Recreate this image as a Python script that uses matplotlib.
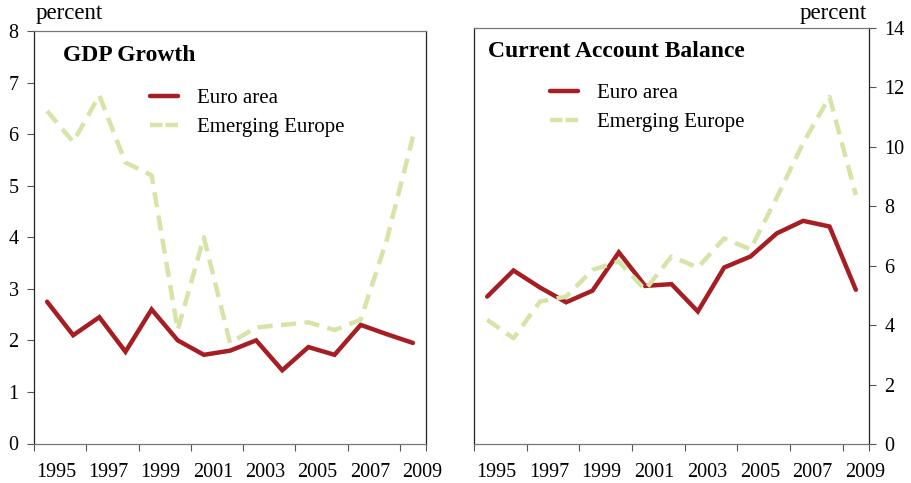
import matplotlib
matplotlib.use("Agg")
import matplotlib.pyplot as plt
import numpy as np

plt.rcParams['font.family'] = ['Liberation Serif', 'DejaVu Serif']

years = np.arange(1995, 2010)

gdp_euro = [2.75, 2.1, 2.45, 1.78, 2.6, 2.0, 1.72, 1.8, 2.0, 1.42, 1.87, 1.72, 2.3, 2.12, 1.95]
gdp_emerging = [6.45, 5.85, 6.75, 5.45, 5.2, 2.2, 4.0, 1.95, 2.25, 2.3, 2.35, 2.2, 2.4, 3.95, 5.95]

ca_euro = [4.96, 5.84, 5.27, 4.77, 5.16, 6.45, 5.32, 5.38, 4.46, 5.94, 6.31, 7.09, 7.51, 7.32, 5.19]
ca_emerging = [4.18, 3.56, 4.79, 4.96, 5.86, 6.14, 5.19, 6.31, 5.94, 6.92, 6.55, 8.3, 10.13, 11.68, 8.38]

year_labels = ['1995', '1997', '1999', '2001', '2003', '2005', '2007', '2009']
series_names = ['Euro area', 'Emerging Europe']

RED = '#A61E24'
GREEN = '#D7E4A8'
TICK_FS = 14.5


def style_axes(ax, yside):
    ax.set_xlim(1994.5, 2009.5)
    # tick marks sit between years, labels sit under odd years
    ax.set_xticks(list(np.arange(1994.5, 2009, 2)) + [2009.5])
    ax.set_xticklabels([])
    ax.set_xticks([int(y) + 0.35 for y in year_labels], minor=True)
    ax.set_xticklabels(year_labels, minor=True, fontsize=TICK_FS)
    ax.tick_params(axis='x', which='major', direction='out', length=5, width=0.8, color='#555555')
    ax.tick_params(axis='x', which='minor', length=0, pad=14)
    ax.tick_params(axis='y', direction='out', length=5, width=0.8, color='#555555',
                   labelsize=TICK_FS, pad=6)
    if yside == 'right':
        ax.yaxis.tick_right()
    for s in ['left', 'right']:
        ax.spines[s].set_color('#222222')
        ax.spines[s].set_linewidth(0.9)
    for s in ['top', 'bottom']:
        ax.spines[s].set_color('#777777')
        ax.spines[s].set_linewidth(0.9)


def draw(ax, euro, emerging):
    ax.plot(years, euro, color=RED, lw=3.2, solid_capstyle='round',
            solid_joinstyle='miter', label=series_names[0])
    ax.plot(years, emerging, color=GREEN, lw=3.2, dashes=(3.4, 1.9),
            dash_capstyle='butt', label=series_names[1])


def add_legend(ax, anchor):
    leg = ax.legend(loc='upper left', bbox_to_anchor=anchor, frameon=False, fontsize=15,
                    handlelength=1.35, handletextpad=0.9, labelspacing=0.45,
                    borderpad=0, borderaxespad=0)
    # two even dashes in the short legend sample
    leg.get_lines()[1].set_dashes((2.8, 0.7))
    return leg


fig = plt.figure(figsize=(9.12, 4.83), dpi=100)

ax1 = fig.add_axes([34 / 912, 1 - 443.5 / 483, 392 / 912, 412.5 / 483])
draw(ax1, gdp_euro, gdp_emerging)
ax1.set_ylim(0, 8)
ax1.set_yticks(range(0, 9))
style_axes(ax1, 'left')
ax1.text(0.074, 0.94, 'GDP Growth', transform=ax1.transAxes, fontsize=17,
         fontweight='bold', va='center', ha='left')
add_legend(ax1, (0.296, 0.861))

ax2 = fig.add_axes([474 / 912, 1 - 444 / 483, 395 / 912, 416 / 483])
draw(ax2, ca_euro, ca_emerging)
ax2.set_ylim(0, 14)
ax2.set_yticks(range(0, 15, 2))
style_axes(ax2, 'right')
ax2.text(0.035, 0.943, 'Current Account Balance', transform=ax2.transAxes, fontsize=17,
         fontweight='bold', va='center', ha='left')
add_legend(ax2, (0.192, 0.866))

fig.text(36 / 912, 1 - 14 / 483, 'percent', fontsize=16.5, ha='left', va='center')
fig.text(867 / 912, 1 - 14 / 483, 'percent', fontsize=16.5, ha='right', va='center')

fig.savefig('out.png', dpi=100)
